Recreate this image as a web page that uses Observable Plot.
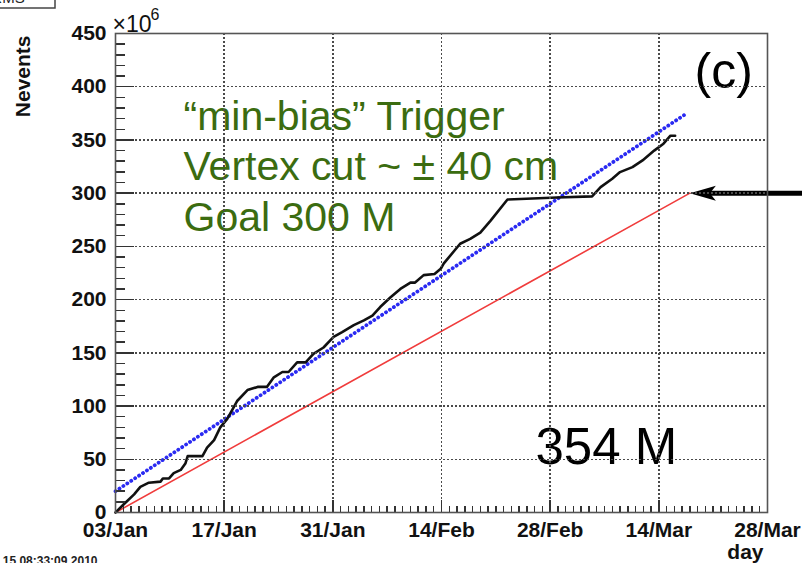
<!DOCTYPE html>
<html><head><meta charset="utf-8">
<script src="https://cdn.jsdelivr.net/npm/d3@7"></script>
<script src="https://cdn.jsdelivr.net/npm/@observablehq/plot@0.6"></script>
<style>
html,body{margin:0;padding:0;background:#fff;overflow:hidden;}
#chart svg{display:block;}
</style></head><body><div id="chart"></div>
<script>
// ---- data (days counted from 03/Jan/2010) ----
const eventDays = [0,1.1,2.4,3.2,4.3,5.8,6.1,6.9,7.5,8.4,9.0,9.3,11.2,11.8,12.7,13.5,14.4,15.7,17.0,18.3,19.5,20.4,21.5,22.3,23.4,24.5,25.5,26.8,28.1,29.2,30.7,32.0,33.1,34.1,35.4,36.7,38.0,38.6,39.7,41.1,41.9,42.3,44.4,45.7,47.0,48.3,50.5,56.9,61.4,62.5,64.0,65.0,66.6,67.9,69.4,70.6,71.5,72.1];
const eventCounts = [0,8,17,24,28,29,32,32,37,40,46,53,53,61,68,80,88,105,115,118,118,127,132,132,141,141,149,155,165,169.5,176,180.5,185,193,202,210,216,216,223,224,229,234,252.5,257,263,274,294,296,297,305.7,313.6,319.8,324.5,330.8,340,346.5,354,354];
const goalDays = [0, 74];
const goalCounts = [0, 300];
const trendDays = [0, 73.6];
const trendCounts = [20, 375];
const arrowDays = [74];
const arrowCounts = [300];

const yTickValues = [0,50,100,150,200,250,300,350,400,450];
const yTickLabels = ["0","50","100","150","200","250","300","350","400","450"];
const xTickDays = [0,14,28,42,56,70,84];
const xTickLabels = ["03/Jan","17/Jan","31/Jan","14/Feb","28/Feb","14/Mar","28/Mar"];

const annotationText = "\u201Cmin-bias\u201D Trigger\nVertex cut ~ \u00B1 40 cm\nGoal 300 M";
const panelLabel = "(c)";
const totalLabel = "354 M";
const yTitle = "Nevents";
const xTitle = "day";
const stamp = "Mon Mar 15 08:33:09 2010";

// ---- helpers ----
const t0 = Date.UTC(2010, 0, 3);
const toDate = d => new Date(t0 + d * 864e5);
const counts = eventDays.map((d, i) => ({date: toDate(d), n: eventCounts[i]}));
const goal = goalDays.map((d, i) => ({date: toDate(d), n: goalCounts[i]}));
const trend = trendDays.map((d, i) => ({date: toDate(d), n: trendCounts[i]}));
const arrow = arrowDays.map((d, i) => ({date: toDate(d), n: arrowCounts[i]}));
const xMajor = xTickDays.map(toDate);
const xMinor = d3.range(0, 85).map(toDate);
const yMinor = d3.range(0, 451, 10);

const W = 802, H = 563, mL = 115, mR = 35, mT = 33, mB = 51;
const innerW = W - mL - mR, innerH = H - mT - mB;
const font = "'Liberation Sans', Arial, Helvetica, sans-serif";

const arrowHead = {draw(ctx) {
  ctx.moveTo(0, 0); ctx.lineTo(26, -7.5); ctx.lineTo(20, 0); ctx.lineTo(26, 7.5); ctx.closePath();
}};

const statsBox = (index, scales, values, dims) => {
  const g = d3.create("svg:g");
  g.append("rect").attr("x", -3).attr("y", -30).attr("width", 58).attr("height", 38)
    .attr("fill", "#fff").attr("stroke", "#444").attr("stroke-width", 1.5);
  g.append("text").attr("x", 8).attr("y", 3).attr("font-size", 15).attr("fill", "#222").text("RMS");
  return g.node();
};

const grid = {stroke: "#4a4a4a", strokeWidth: 1.5, strokeDasharray: "2,2", shapeRendering: "crispEdges"};
const tick = {stroke: "#333", strokeWidth: 1.5, shapeRendering: "crispEdges"};
const bold = {fontWeight: "bold", fill: "#111", fontSize: 21};

const chart = Plot.plot({
  width: W, height: H,
  marginLeft: mL, marginRight: mR, marginTop: mT, marginBottom: mB,
  style: {fontFamily: font, background: "#fff"},
  x: {type: "utc", domain: [xMajor[0], xMajor[xMajor.length - 1]], axis: null},
  y: {domain: [0, 450], axis: null},
  marks: [
    Plot.line(goal, {x: "date", y: "n", stroke: "#f03c3c", strokeWidth: 1.6}),
    Plot.line(trend, {x: "date", y: "n", stroke: "#2a2af2", strokeWidth: 3.8, strokeDasharray: "0.1,4.6", strokeLinecap: "round"}),
    Plot.line(counts, {x: "date", y: "n", stroke: "#111", strokeWidth: 2.6}),
    Plot.ruleY(arrow, {y: "n", x1: "date", x2: () => toDate(95), dx: 16, stroke: "#000", strokeWidth: 5}),
    Plot.dot(arrow, {x: "date", y: "n", symbol: arrowHead, fill: "#000", stroke: "none", r: 5}),
    // axis labels
    Plot.text(yTickValues, {y: d => d, text: (d, i) => yTickLabels[i], frameAnchor: "left", dx: -9, textAnchor: "end", ...bold}),
    Plot.text(xMajor, {x: d => d, text: (d, i) => xTickLabels[i], frameAnchor: "bottom", dy: 10, lineAnchor: "top", ...bold}),
    Plot.text([yTitle], {frameAnchor: "top-left", dx: -86, dy: 2, rotate: -90, textAnchor: "end", lineAnchor: "bottom", ...bold}),
    Plot.text([xTitle], {frameAnchor: "bottom-right", dx: -4, dy: 46, textAnchor: "end", lineAnchor: "bottom", ...bold}),
    Plot.text(["\u00D710"], {frameAnchor: "top-left", dx: -3, dy: -2, textAnchor: "start", lineAnchor: "bottom", fontSize: 23, fill: "#111"}),
    Plot.text(["6"], {frameAnchor: "top-left", dx: 35, dy: -14, textAnchor: "start", lineAnchor: "bottom", fontSize: 16, fill: "#111"}),
    // annotations
    Plot.text([annotationText], {frameAnchor: "top-left", dx: 68, dy: 60, textAnchor: "start", lineAnchor: "top", lineHeight: 1.24, fontSize: 41, fill: "#3b6c10"}),
    Plot.text([panelLabel], {frameAnchor: "top-left", dx: 579, dy: 54, textAnchor: "start", lineAnchor: "bottom", fontSize: 50, fill: "#000"}),
    Plot.text([totalLabel], {frameAnchor: "top-left", dx: 420, dy: 430, textAnchor: "start", lineAnchor: "bottom", fontSize: 51, fill: "#000"}),
    Plot.text([stamp], {frameAnchor: "bottom-left", dx: -18, dy: 52, textAnchor: "end", lineAnchor: "bottom", fontSize: 12, fontWeight: "bold", fill: "#222"}),
    // grid, ticks and frame drawn last so nothing paints over them
    Plot.ruleY(yTickValues.slice(1, -1), {y: d => d, ...grid}),
    Plot.ruleX(xMajor.slice(1, -1), {x: d => d, ...grid}),
    Plot.tickY(yMinor, {...tick, insetRight: innerW - 10}),
    Plot.tickY(yTickValues, {...tick, insetRight: innerW - 19}),
    Plot.tickX(xMinor, {...tick, insetTop: innerH - 6}),
    Plot.tickX(xMajor, {...tick, insetTop: innerH - 12}),
    Plot.frame({stroke: "#555", strokeWidth: 1.6}),
    statsBox
  ]
});
document.getElementById("chart").appendChild(chart);
</script>
</body></html>
